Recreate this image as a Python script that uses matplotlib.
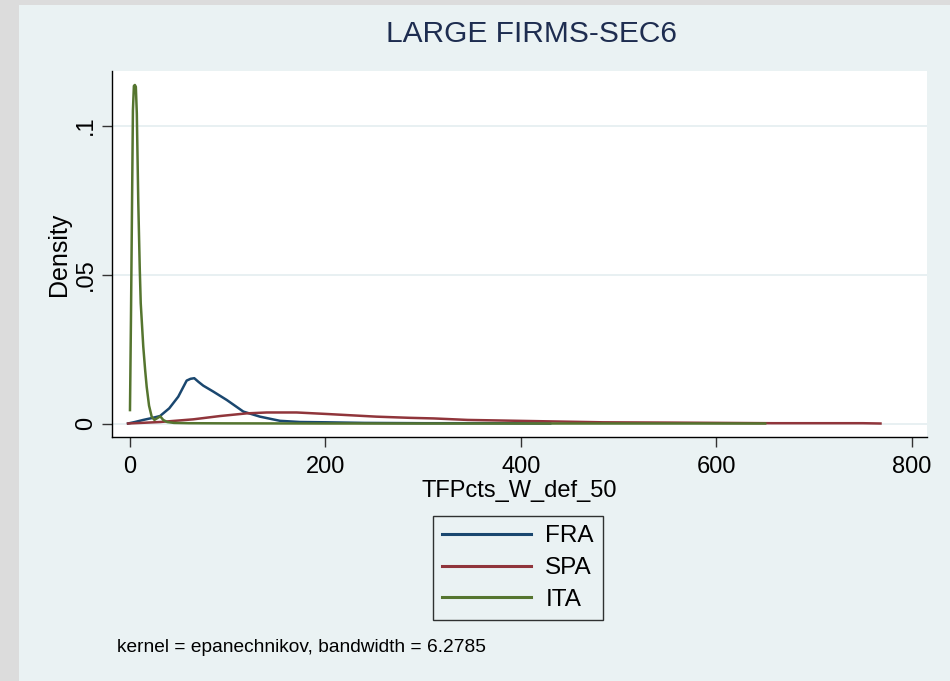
import matplotlib
matplotlib.use("Agg")
import matplotlib.pyplot as plt
from matplotlib.patches import Rectangle

plt.rcParams['font.family'] = ['Liberation Sans', 'DejaVu Sans']

# Kernel density estimates of TFP for large firms, sector 6
fra_x = [-2, 5, 13.6, 22, 30.7, 40.2, 49.4, 58, 62, 65.8, 70, 75, 85.3, 99, 116,
         133, 153.5, 174, 201, 240, 300, 360, 430]
fra_y = [0, 0.0005, 0.0012, 0.0018, 0.0025, 0.0051, 0.0090, 0.0144, 0.0150, 0.0152,
         0.0140, 0.0127, 0.0107, 0.0079, 0.0040, 0.0023, 0.0009, 0.0005, 0.0004,
         0.0002, 0.0001, 0.0001, 0.0]

spa_x = [-2, 30.7, 64.8, 92, 119.4, 140, 170.5, 201, 252, 286.6, 311, 345.5, 380,
         432, 484, 553, 657, 750, 768]
spa_y = [0, 0.0005, 0.0014, 0.0025, 0.0034, 0.0037, 0.0037, 0.0032, 0.0023, 0.0019,
         0.0017, 0.0012, 0.0010, 0.0007, 0.0004, 0.0003, 0.0001, 0.0001, 0.0]

ita_x = [0, 1, 2, 3, 4, 5, 6, 7, 8.5, 10, 11, 13.6, 15.5, 17.1, 19.5, 22.2, 25, 28,
         31, 34, 38, 45, 60, 100, 200, 300, 400, 500, 650]
ita_y = [0.0045, 0.035, 0.07, 0.105, 0.1133, 0.1136, 0.1130, 0.104, 0.074, 0.052,
         0.0404, 0.0258, 0.018, 0.0123, 0.006, 0.0023, 0.0012, 0.0018, 0.0024, 0.0012,
         0.0005, 0.0002, 0.0001, 0.00005, 0, 0, 0, 0, 0]

series_labels = ['FRA', 'SPA', 'ITA']
x_ticks = [0, 200, 400, 600, 800]
y_ticks = [0, 0.05, 0.1]
y_tick_labels = ['0', '.05', '.1']

W, H = 950, 681
BG = '#eaf2f3'
fig = plt.figure(figsize=(W / 100, H / 100), dpi=100)
fig.patch.set_facecolor('#dcdcdc')
bg = Rectangle((19 / W, 0), 1 - 19 / W, 1 - 5 / H, transform=fig.transFigure,
               facecolor=BG, edgecolor='none', zorder=-10)
fig.add_artist(bg)

ax = fig.add_axes([112 / W, 1 - 437 / H, (927 - 112) / W, (437 - 71) / H])
ax.set_facecolor('white')

navy, maroon, green = '#1a476f', '#90353b', '#55752f'
lw = 1.8
ax.plot(fra_x, fra_y, color=navy, lw=lw, label=series_labels[0], zorder=3)
ax.plot(spa_x, spa_y, color=maroon, lw=lw, label=series_labels[1], zorder=3)
ax.plot(ita_x, ita_y, color=green, lw=lw, label=series_labels[2], zorder=3)

ax.set_xlim(-18.4, 815.6)
ax.set_ylim(-0.00453, 0.1183)
ax.set_xticks(x_ticks)
ax.set_yticks(y_ticks)
ax.set_yticklabels(y_tick_labels, rotation=90, va='center')
ax.grid(axis='y', color='#e6eff1', lw=1.3, zorder=1)
ax.set_axisbelow(True)

for s in ['top', 'right']:
    ax.spines[s].set_visible(False)
for s in ['left', 'bottom']:
    ax.spines[s].set_linewidth(1.0)
    ax.spines[s].set_color('black')

ax.tick_params(axis='both', direction='out', length=7, width=1.0, color='#333333',
               labelsize=17)
ax.tick_params(axis='x', pad=7)
ax.tick_params(axis='y', pad=4)

ax.set_xlabel('TFPcts_W_def_50', fontsize=17, labelpad=1)
ax.set_ylabel('Density', fontsize=18, labelpad=3)

fig.text(531 / W, 1 - 34 / H, 'LARGE FIRMS-SEC6', ha='center', va='center',
         fontsize=21.5, color='#1e2d50')

leg = ax.legend(loc='center', bbox_to_anchor=((432 + 604) / 2 / W, 1 - 568 / H),
                bbox_transform=fig.transFigure, fontsize=17.5, handlelength=3.66,
                handletextpad=0.58, labelspacing=0.4, borderpad=0.38,
                frameon=True, fancybox=False)
leg.get_frame().set_edgecolor('black')
leg.get_frame().set_linewidth(1.0)
leg.get_frame().set_facecolor(BG)
for line in leg.get_lines():
    line.set_linewidth(2.2)

fig.text(117 / W, 1 - 647 / H, 'kernel = epanechnikov, bandwidth = 6.2785',
         ha='left', va='center', fontsize=13.75)

fig.savefig('out.png', dpi=100, facecolor=fig.get_facecolor())
